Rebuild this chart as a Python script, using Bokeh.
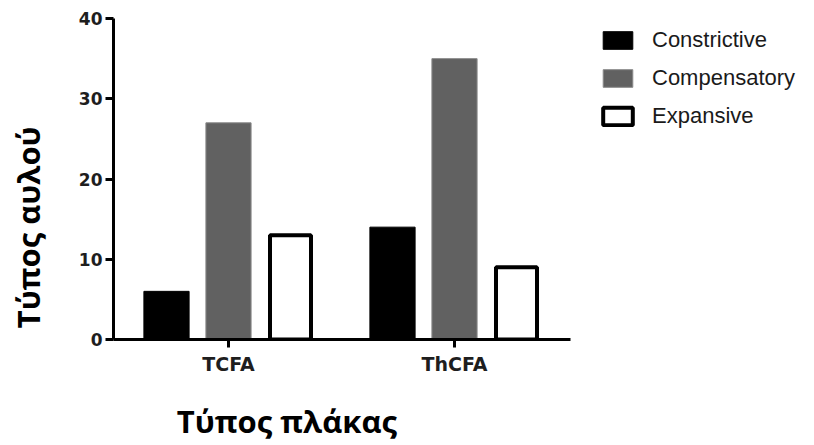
from bokeh.plotting import figure
from bokeh.models import Range1d, FixedTicker, Legend, LegendItem
from bokeh.embed import file_html
from bokeh.resources import INLINE

# ---- data ----
groups = ["TCFA", "ThCFA"]
series = ["Constrictive", "Compensatory", "Expansive"]
constrictive = [6, 14]
compensatory = [27, 35]
expansive = [13, 9]
y_ticks = [0, 10, 20, 30, 40]
x_title = "Τύπος πλάκας"
y_title = "Τύπος αυλού"

NBSP = "\u00a0"
X_START, X_AXIS_END, X_END = 0.4912, 2.5133, 3.5929

# ---- figure ----
p = figure(width=814, height=445, output_backend="svg", toolbar_location=None,
           title=None,
           x_range=Range1d(X_START, X_END), y_range=Range1d(0, 40),
           min_border_left=113, min_border_right=0,
           min_border_top=18, min_border_bottom=106)
p.outline_line_color = None
p.xgrid.visible = False
p.ygrid.visible = False
p.background_fill_color = "white"

xs = [i + 1 for i in range(len(groups))]
offsets = [-0.2743, 0.0, 0.2743]

r1 = p.vbar(x=[x + offsets[0] for x in xs], top=constrictive, bottom=0, width=0.2,
            fill_color="black", line_color="black", line_width=1)
r2 = p.vbar(x=[x + offsets[1] for x in xs], top=compensatory, bottom=0, width=0.2,
            fill_color="#616161", line_color="#8a8a8a", line_width=1)
r3 = p.vbar(x=[x + offsets[2] for x in xs], top=expansive, bottom=0, width=0.1814,
            fill_color="white", line_color="black", line_width=4)

# ---- axes ----
for ax in (p.xaxis[0], p.yaxis[0]):
    ax.axis_line_width = 3
    ax.axis_line_color = "black"
    ax.major_tick_line_width = 3
    ax.major_tick_line_color = "black"
    ax.major_tick_out = 8
    ax.major_tick_in = 0
    ax.minor_tick_out = 0
    ax.minor_tick_in = 0
    ax.major_label_text_font = "DejaVu Sans"
    ax.major_label_text_font_style = "bold"
    ax.major_label_text_color = "#1e1e1e"
    ax.axis_label_text_font = "Open Sans"
    ax.axis_label_text_font_style = "bold"
    ax.axis_label_text_font_size = "31px"
    ax.axis_label_text_color = "black"

p.yaxis.ticker = FixedTicker(ticks=y_ticks)
p.yaxis.major_label_text_font_size = "17px"
p.yaxis.major_label_standoff = 3
p.yaxis.axis_label = y_title + NBSP * 12
p.yaxis.axis_label_standoff = 27

p.xaxis.ticker = FixedTicker(ticks=xs)
p.xaxis.bounds = (X_START, X_AXIS_END)
p.xaxis.major_label_overrides = {x: g for x, g in zip(xs, groups)}
p.xaxis.major_label_text_font_size = "19px"
p.xaxis.major_label_standoff = 5
p.xaxis.axis_label = x_title + NBSP * 44
p.xaxis.axis_label_standoff = 22

# ---- legend (inside the wide frame, right of the axis end) ----
legend = Legend(items=[LegendItem(label=s, renderers=[r]) for s, r in zip(series, [r1, r2, r3])],
                location=(486, 210), orientation="vertical",
                glyph_width=37, glyph_height=22, label_standoff=16, spacing=12,
                padding=0, margin=0, border_line_color=None, background_fill_alpha=0,
                label_text_font="Liberation Sans", label_text_font_size="22px",
                label_text_color="#1a1a1a")
p.add_layout(legend)

open("out.html", "w").write(file_html(p, INLINE))
